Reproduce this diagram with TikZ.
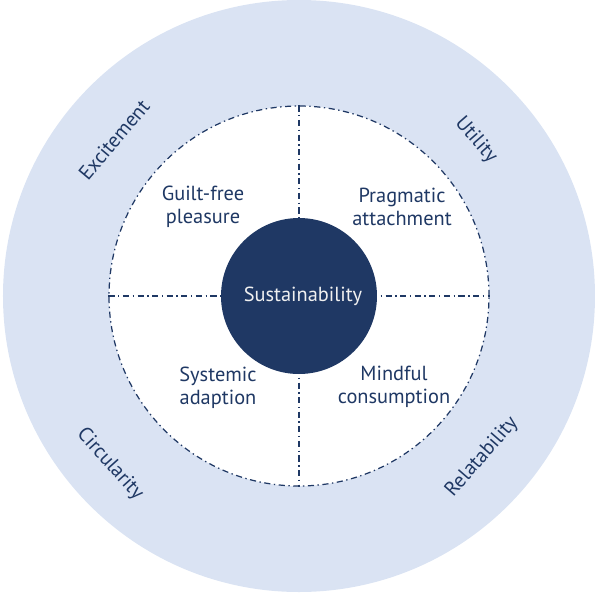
\documentclass[tikz,border=0pt]{standalone}
\usepackage{fontspec}
\setmainfont{PT Sans}
\usepackage{tikz}
\usetikzlibrary{positioning}
\definecolor{navy}{RGB}{31,56,100}
\definecolor{ringblue}{RGB}{218,227,243}
\definecolor{lighttext}{RGB}{240,240,240}

\begin{document}
\begin{tikzpicture}[font=\fontsize{11.6}{13}\selectfont, text=navy]
    \useasboundingbox (-5.98,-5.96) rectangle (6.02,5.92);

    % rings
    \node[circle, fill=ringblue, minimum size=11.84cm, inner sep=0pt] (outer) at (0,0) {};
    \node[circle, fill=white, draw=navy, line width=0.7pt, dash pattern=on 3.5pt off 2pt on 0.8pt off 2pt, minimum size=7.6cm, inner sep=0pt] (inner) at (0,0) {};

    % quadrant lines
    \draw[navy, line width=0.7pt, dash pattern=on 3.5pt off 2pt on 0.8pt off 2pt] (inner.north) -- (inner.south);
    \draw[navy, line width=0.7pt, dash pattern=on 3.5pt off 2pt on 0.8pt off 2pt] (inner.west) -- (inner.east);

    \node[circle, fill=navy, minimum size=3.12cm, inner sep=0pt] (core) at (0,0) {};
    \node[text=lighttext] (sus) at (0.08,0) {Sustainability};

    % quadrants
    \node[align=center] (guilt) at (-1.92,1.78) {Guilt-free\\pleasure};
    \node[align=center] (prag) at (2.06,1.78) {Pragmatic\\attachment};
    \node[align=center] (sys) at (-1.62,-1.84) {Systemic\\adaption};
    \node[align=center] (mind) at (1.90,-1.82) {Mindful\\consumption};

    % outer ring labels
    \node[rotate=50] (exc) at (-3.70,3.12) {Excitement};
    \node[rotate=-49] (util) at (3.54,3.12) {Utility};
    \node[rotate=-48] (circ) at (-3.78,-3.36) {Circularity};
    \node[rotate=49] (rel) at (3.66,-3.22) {Relatability};

\end{tikzpicture}
\end{document}
